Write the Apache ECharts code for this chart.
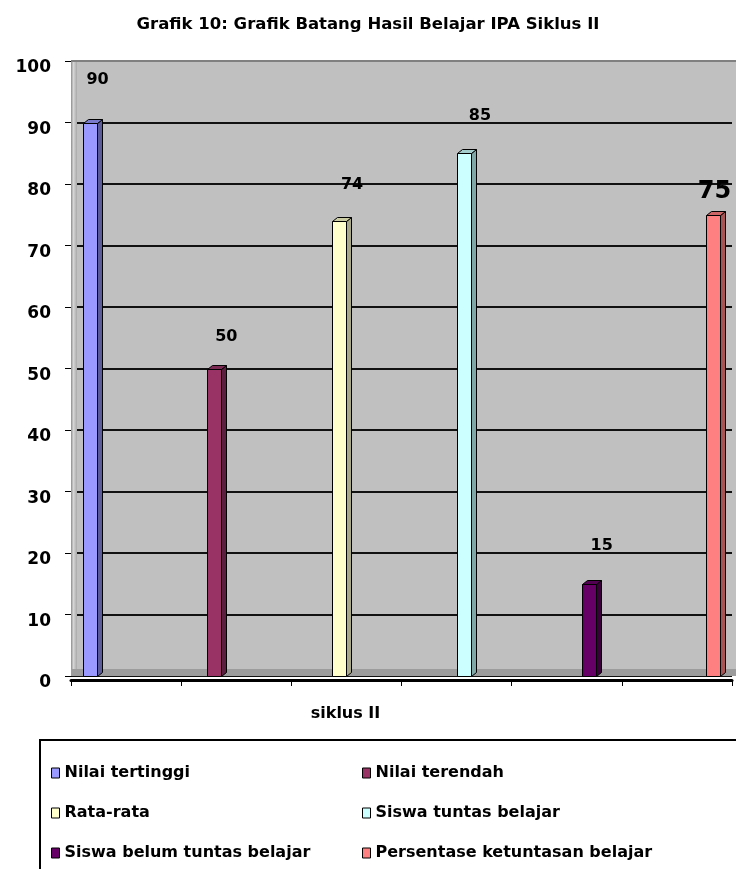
<!DOCTYPE html>
<html>
<head>
<meta charset="utf-8">
<script src="https://cdn.jsdelivr.net/npm/echarts@6/dist/echarts.min.js"></script>
<style>
  html, body { margin: 0; padding: 0; background: #ffffff; }
  #chart { width: 736px; height: 869px; }
</style>
</head>
<body>
<div id="chart"></div>
<script>
// ---- data ----
const categories = ['siklus II'];
const seriesNames = [
  'Nilai tertinggi',
  'Nilai terendah',
  'Rata-rata',
  'Siswa tuntas belajar',
  'Siswa belum tuntas belajar',
  'Persentase ketuntasan belajar'
];
const seriesValues = [90, 50, 74, 85, 15, 75];
const yMin = 0;
const yMax = 100;
const yStep = 10;

// ---- styling ----
const FONT = '"DejaVu Sans", "Liberation Sans", sans-serif';
const faceColors = ['#9999ff', '#993366', '#ffffcc', '#ccffff', '#660066', '#ff8080'];
const topColors  = ['#7a7acc', '#7a2952', '#ccccA3', '#a3cccc', '#520052', '#cc6666'];
const sideColors = ['#5c5c99', '#5c1f3d', '#a9a98a', '#80a6a6', '#3a003a', '#a85454'];
// label placement relative to the front face: [dx from face centre, rise above bar top]
const labelPlace = [[8, 44], [12, 33], [13, 37], [16, 38], [13, 39], [1, 24]];
const labelSizes = [16, 16, 16, 16, 16, 24];

// bar geometry (pixels) and spacing between the series inside the category band
const BAR_W = 14, DEPTH_X = 5, DEPTH_Y = 4, PITCH_RATIO = 0.1888;

const chart = echarts.init(document.getElementById('chart'), null, { renderer: 'canvas' });

function makeRenderItem(i) {
  return function (params, api) {
    const v = api.value(1);
    const base = api.coord([api.value(0), yMin]);
    const top = api.coord([api.value(0), v]);
    const band = api.size([1, 0])[0];
    const pitch = band * PITCH_RATIO;
    const cx = base[0] + (i - (seriesNames.length - 1) / 2) * pitch;
    const x0 = Math.round(cx - BAR_W / 2) + 0.5;
    const x1 = x0 + BAR_W;
    const yb = Math.round(base[1]) + 0.5;
    const yt = Math.round(top[1]) + 0.5;
    const stroke = { stroke: '#000', lineWidth: 1 };
    return {
      type: 'group',
      children: [
        {
          type: 'polygon',
          shape: { points: [[x1, yb], [x1, yt], [x1 + DEPTH_X, yt - DEPTH_Y], [x1 + DEPTH_X, yb - DEPTH_Y]] },
          style: Object.assign({ fill: sideColors[i] }, stroke)
        },
        {
          type: 'polygon',
          shape: { points: [[x0, yt], [x0 + DEPTH_X, yt - DEPTH_Y], [x1 + DEPTH_X, yt - DEPTH_Y], [x1, yt]] },
          style: Object.assign({ fill: topColors[i] }, stroke)
        },
        {
          type: 'rect',
          shape: { x: x0, y: yt, width: BAR_W, height: yb - yt },
          style: Object.assign({ fill: faceColors[i] }, stroke)
        },
        {
          type: 'text',
          style: {
            text: String(v),
            x: cx + labelPlace[i][0],
            y: yt - labelPlace[i][1],
            align: 'center',
            verticalAlign: 'middle',
            fontSize: labelSizes[i],
            fontWeight: 'bold',
            fontFamily: FONT,
            fill: '#000'
          }
        }
      ]
    };
  };
}

const legendText = { fontSize: 16, fontWeight: 'bold', color: '#000', fontFamily: FONT, lineHeight: 20 };
const legendSlots = [[51, 763], [362, 763], [51, 803], [362, 803], [51, 843], [362, 843]];

const legends = seriesNames.map((name, i) => ({
  data: [{ name: name, itemStyle: { color: faceColors[i], borderColor: '#000', borderWidth: 1 } }],
  left: legendSlots[i][0],
  top: legendSlots[i][1],
  padding: 0,
  icon: 'rect',
  itemWidth: 8,
  itemHeight: 10,
  selectedMode: false,
  textStyle: legendText
}));

const option = {
  backgroundColor: '#ffffff',
  animation: false,
  title: {
    text: 'Grafik 10: Grafik Batang Hasil Belajar IPA Siklus II',
    left: 'center',
    top: 11,
    textStyle: { fontSize: 16.5, fontWeight: 'bold', color: '#000', fontFamily: FONT }
  },
  grid: {
    left: 71, right: 4, top: 61, bottom: 193,
    show: true, backgroundColor: '#c0c0c0', borderWidth: 0
  },
  legend: legends,
  xAxis: [
    {
      type: 'category',
      data: categories,
      position: 'bottom',
      offset: 4,
      axisLine: { show: false },
      axisTick: { show: false },
      axisLabel: {
        fontSize: 16, fontWeight: 'bold', color: '#000', fontFamily: FONT,
        margin: 26, padding: [0, 112, 0, 0]
      }
    },
    {
      type: 'value',
      min: 0, max: 6, interval: 1,
      position: 'bottom',
      offset: 4,
      axisLine: { show: true, lineStyle: { color: '#000', width: 3 } },
      axisTick: { show: true, length: 6, lineStyle: { color: '#000', width: 1 } },
      axisLabel: { show: false },
      splitLine: { show: false }
    }
  ],
  yAxis: {
    type: 'value',
    min: yMin, max: yMax, interval: yStep,
    axisLine: { show: true, lineStyle: { color: '#000', width: 1 } },
    axisTick: { show: true, length: 6, lineStyle: { color: '#000', width: 1 } },
    axisLabel: {
      fontSize: 17, fontWeight: 'bold', color: '#000', fontFamily: FONT,
      margin: 20, verticalAlign: 'top', lineHeight: 14
    },
    splitLine: { show: true, lineStyle: { color: '#111', width: 2 } }
  },
  graphic: [
    // plot background continues to the right edge
    {
      type: 'rect', z: 1, silent: true,
      shape: { x: 732, y: 61, width: 4, height: 614 },
      style: { fill: '#c0c0c0' }
    },
    // left wall bevel
    {
      type: 'rect', z: 1, silent: true,
      shape: { x: 71, y: 61, width: 6, height: 614 },
      style: {
        fill: new echarts.graphic.LinearGradient(0, 0, 1, 0, [
          { offset: 0, color: '#8c8c8c' },
          { offset: 0.4, color: '#d6d6d6' },
          { offset: 1, color: '#a8a8a8' }
        ])
      }
    },
    // floor strip
    {
      type: 'rect', z: 1, silent: true,
      shape: { x: 71, y: 669, width: 665, height: 7 },
      style: { fill: '#9c9c9c' }
    },
    // top edge of the back wall
    {
      type: 'line', z: 1, silent: true,
      shape: { x1: 71, y1: 61, x2: 736, y2: 61 },
      style: { stroke: '#808080', lineWidth: 2 }
    },
    // legend frame
    {
      type: 'rect', z: 1, silent: true,
      shape: { x: 40, y: 740, width: 720, height: 160 },
      style: { fill: 'none', stroke: '#000', lineWidth: 2 }
    }
  ],
  series: seriesNames.map((name, i) => ({
    name: name,
    type: 'custom',
    xAxisIndex: 0,
    z: 3,
    itemStyle: { color: faceColors[i] },
    encode: { x: 0, y: 1 },
    data: [[0, seriesValues[i]]],
    renderItem: makeRenderItem(i)
  }))
};

chart.setOption(option);
</script>
</body>
</html>
